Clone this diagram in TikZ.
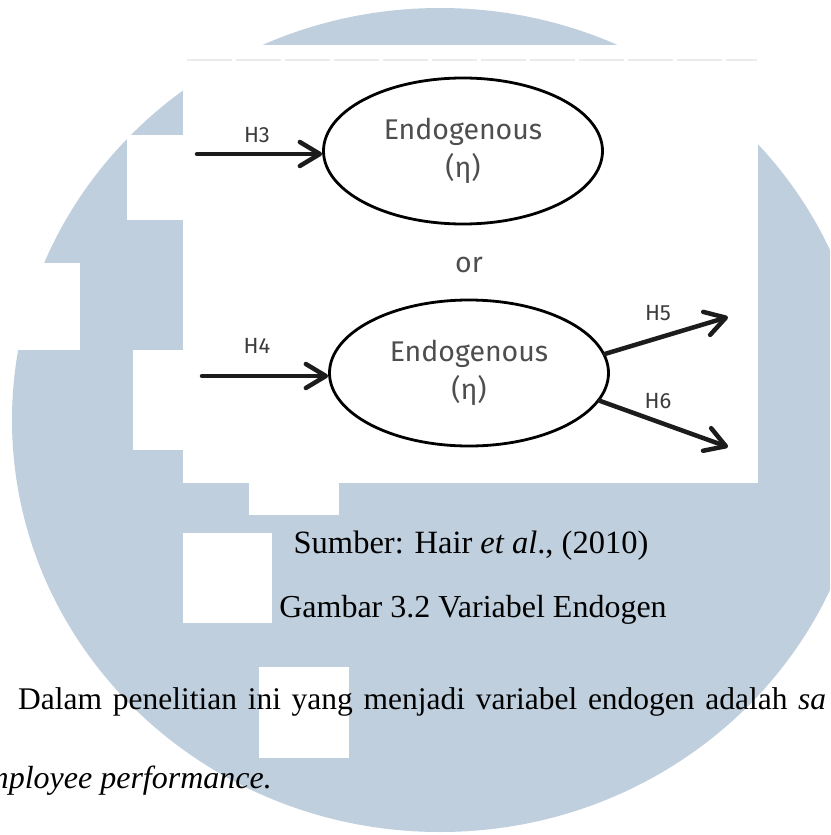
\documentclass[tikz,border=0pt]{standalone}
\usepackage{fontspec}
\setmainfont{Liberation Serif}
\newfontfamily\diagfont{Fira Sans}
\usetikzlibrary{arrows.meta,shapes.geometric}
\definecolor{wm}{RGB}{191,207,221}
\definecolor{dtext}{RGB}{78,78,78}
\definecolor{htext}{RGB}{60,60,60}
\definecolor{dline}{RGB}{28,28,28}
\tikzset{
  endo/.style={ellipse, draw=black, line width=2.8pt, fill=white, inner sep=0pt,
    minimum width=279pt, minimum height=146pt, align=center, text=dtext,
    font=\diagfont\fontsize{28.5}{38}\selectfont},
  hlabel/.style={anchor=base, inner sep=0pt, text=htext, font=\diagfont\fontsize{22}{24}\selectfont},
  path/.style={draw=dline, line width=4.5pt, line cap=round,
    -{Straight Barb[length=20pt,width=24pt,line cap=round,line join=round]}},
  serif/.style={inner sep=0pt, text=black},
}
\begin{document}
\begin{tikzpicture}[x=1pt,y=-1pt]
\useasboundingbox (0,0) rectangle (830,835);
\clip (0,0) rectangle (830,835);
% watermark
\fill[white] (0,0) rectangle (830,835);
\fill[wm] (440,420) ellipse[x radius=428pt, y radius=412pt];
\fill[white] (127,135) rectangle (183,220);
\fill[white] (0,263) rectangle (80,350);
\fill[white] (133,350) rectangle (183,450);
\fill[white] (249,483) rectangle (339,515);
\fill[white] (183,533) rectangle (272,623);
\fill[white] (259,667) rectangle (349,758);
% diagram panel
\fill[white] (183,45) rectangle (758,483);
\draw[black!8, line width=1.5pt, dash pattern=on 45pt off 4pt] (187,60) -- (757,60);
% nodes
\node[endo] (e1) at (463,151) {Endogenous\\(η)};
\node[endo] (e2) at (469,373) {Endogenous\\(η)};
\node[anchor=base, inner sep=0pt, text=dtext, font=\diagfont\fontsize{28.5}{30}\selectfont] (or) at (469,272) {or};
\coordinate (s3) at (197,154);
\coordinate (s4) at (202,376);
\coordinate (t5) at (728,317);
\coordinate (t6) at (728,447);
\draw[path] (s3) -- (s3 -| e1.west);
\draw[path] (s4) -- (s4 -| e2.west);
\draw[path] (e2.8) -- (t5);
\draw[path] (e2.-12) -- (t6);
\node[hlabel] (h3) at (257,142) {H3};
\node[hlabel] (h4) at (257,353) {H4};
\node[hlabel] (h5) at (658,320) {H5};
\node[hlabel] (h6) at (658,408) {H6};
% captions and text
\node[serif, anchor=base, font=\fontsize{32.5}{34}\selectfont] (src) at (471,553) {Sumber: Hair \textit{et al}., (2010)};
\node[serif, anchor=base, font=\fontsize{32}{34}\selectfont] (fig) at (473,617) {Gambar 3.2 Variabel Endogen};
\node[serif, anchor=base west, font=\fontsize{31.5}{33}\selectfont] (p1) at (18,709) {\makebox[808pt][s]{Dalam penelitian ini yang menjadi variabel endogen adalah \textit{sa}}};
\node[serif, anchor=base east, font=\fontsize{32}{33}\selectfont] (p2) at (272,788) {\textit{employee performance.}};
\end{tikzpicture}
\end{document}
